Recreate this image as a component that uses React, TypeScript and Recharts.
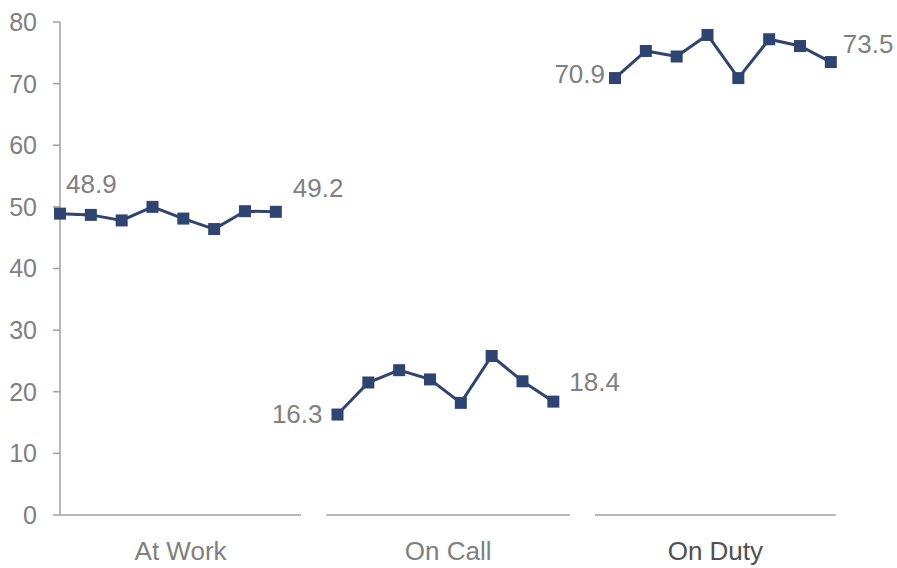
import React from 'react'
import {
  LineChart, Line, XAxis, YAxis, ReferenceLine,
} from 'recharts'

const GROUPS = ['At Work', 'On Call', 'On Duty']
const AT_WORK = [48.9, 48.7, 47.8, 50.0, 48.1, 46.4, 49.3, 49.2]
const ON_CALL = [16.3, 21.5, 23.5, 22.0, 18.2, 25.8, 21.7, 18.4]
const ON_DUTY = [70.9, 75.3, 74.4, 77.9, 70.9, 77.2, 76.1, 73.5]
const Y_TICKS = [0, 10, 20, 30, 40, 50, 60, 70, 80]

const SERIES = [AT_WORK, ON_CALL, ON_DUTY]
const SLOT = 9 // 8 points + one empty slot between groups

// one row per slot, null in the gaps so the line breaks between groups
const data: { x: number; v: number | null }[] = []
SERIES.forEach((vals, g) => {
  vals.forEach((v, j) => data.push({ x: g * SLOT + j, v }))
  if (g < SERIES.length - 1) data.push({ x: g * SLOT + 8, v: null })
})

// baseline pieces under each group, and where the group names sit
const SEGMENTS: [number, number][] = [[0, 7.82], [8.64, 16.54], [17.35, 25.16]]
const LABEL_POS = SEGMENTS.map(([a, b]) => (a + b) / 2)

const NAVY = '#2f4470'
const GREY_TXT = '#808080'
const AXIS = '#a0a0a0'
const FONT = '"Liberation Sans", Arial, sans-serif'

// end-value label offsets: [dx, dy, anchor]
const LABEL_OFFSETS: Record<number, [number, number, 'start' | 'end']> = {
  0: [6, -21, 'start'],
  7: [17, -15, 'start'],
  9: [-15, 8, 'end'],
  16: [16, -11, 'start'],
  18: [-10, 5, 'end'],
  25: [12, -9, 'start'],
}

function SquareDot(props: any) {
  const { cx, cy, index } = props
  if (cx == null || cy == null || props.value == null) return <g key={index} />
  return <rect key={index} x={cx - 6} y={cy - 6} width={12} height={12} fill={NAVY} />
}

function EndLabel(props: any) {
  const { x, y, index, value } = props
  const off = LABEL_OFFSETS[data[index]?.x]
  if (!off || value == null) return null
  return (
    <text x={x + off[0]} y={y + off[1]} textAnchor={off[2]} fill={GREY_TXT} fontSize={26} fontFamily={FONT}>
      {value.toFixed(1)}
    </text>
  )
}

function GroupTick({ x, y, index }: any) {
  return (
    <text x={x} y={y + 37} textAnchor="middle" fontSize={26} fontFamily={FONT}
      fill={index === 2 ? '#505050' : GREY_TXT}>
      {GROUPS[index]}
    </text>
  )
}

export default function App() {
  return (
    <div style={{ position: 'absolute', left: 0, top: 0, background: '#fff' }}>
      <LineChart width={897} height={568} data={data} margin={{ top: 22, right: 60, left: 0, bottom: 0 }}>
        <XAxis
          type="number"
          dataKey="x"
          domain={[0, 25.2]}
          ticks={LABEL_POS}
          interval={0}
          axisLine={false}
          tickLine={false}
          height={53}
          tick={<GroupTick />}
        />
        <YAxis
          domain={[0, 80]}
          ticks={Y_TICKS}
          width={60}
          tickSize={7}
          tickMargin={16}
          stroke={AXIS}
          axisLine={{ stroke: AXIS, strokeWidth: 1.5 }}
          tickLine={{ stroke: AXIS, strokeWidth: 1.5 }}
          tick={{ fill: GREY_TXT, fontSize: 25, fontFamily: FONT }}
        />
        {SEGMENTS.map(([a, b], i) => (
          <ReferenceLine key={i} segment={[{ x: a, y: 0 }, { x: b, y: 0 }]} stroke={AXIS} strokeWidth={1.5} />
        ))}
        <Line
          dataKey="v"
          stroke={NAVY}
          strokeWidth={3}
          connectNulls={false}
          dot={<SquareDot />}
          activeDot={false}
          label={<EndLabel />}
          isAnimationActive={false}
        />
      </LineChart>
    </div>
  )
}
